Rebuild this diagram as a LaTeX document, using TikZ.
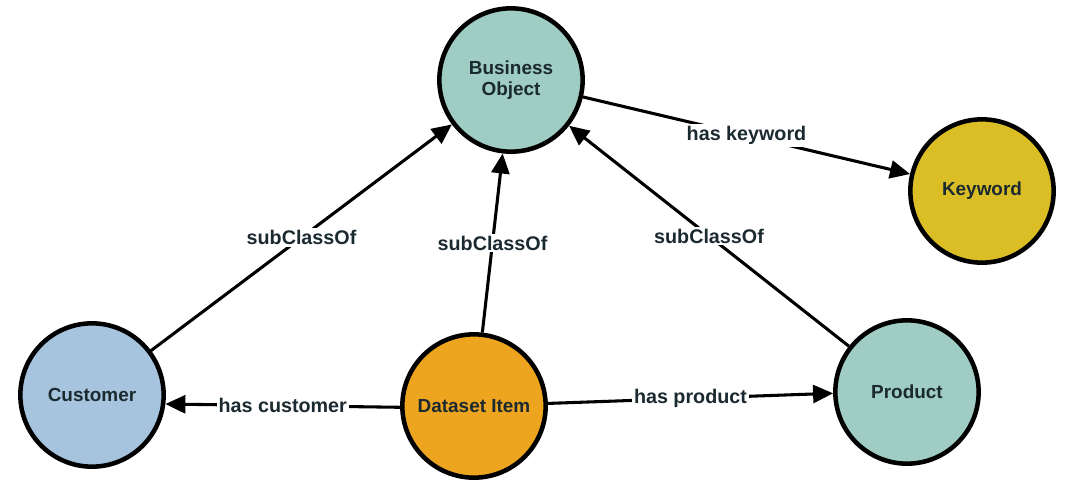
\documentclass[tikz,border=0pt]{standalone}
\usepackage{fontspec}
\setmainfont{Liberation Sans}
\usetikzlibrary{arrows.meta}
\definecolor{teal}{HTML}{9FCDC3}
\definecolor{gold}{HTML}{DBBE26}
\definecolor{skyblue}{HTML}{A7C4DE}
\definecolor{amber}{HTML}{EDA41E}
\definecolor{ink}{HTML}{1B2A30}
\tikzset{
  concept/.style={circle, draw=black, line width=3.4pt, minimum size=107.5pt,
    inner sep=0pt, align=center, text=ink, font=\fontsize{14.2}{16}\selectfont\bfseries},
  rel/.style={line width=2.3pt, -{Triangle[length=15pt, width=13.5pt]}},
  lbl/.style={fill=white, inner sep=1.5pt, text=ink, font=\fontsize{14.8}{16}\selectfont\bfseries}
}
\begin{document}
\begin{tikzpicture}[x=0.75pt, y=-0.75pt]
  \useasboundingbox[fill=white] (0,0) rectangle (1065,479);
  % concept nodes
  \node[concept, fill=teal]   (bo)  at (511,80)  {Business\\Object};
  \node[concept, fill=gold]   (kw)  at (982,191) {Keyword};
  \node[concept, fill=skyblue](cu)  at (92,395)  {Customer};
  \node[concept, fill=amber]  (di)  at (474,406) {Dataset Item};
  \node[concept, fill=teal]   (pr)  at (907,392) {Product};
  % relations
  \draw[rel] (cu) -- node[lbl] {subClassOf} (bo);
  \draw[rel] (di) -- node[lbl] {subClassOf} (bo);
  \draw[rel] (pr) -- node[lbl] {subClassOf} (bo);
  \draw[rel] (bo) -- node[lbl] {has keyword} (kw);
  \draw[rel] (di.181) -- node[lbl] {has customer} (cu.-7);
  \draw[rel] (di.2) -- node[lbl] {has product} (pr.181);
\end{tikzpicture}
\end{document}
